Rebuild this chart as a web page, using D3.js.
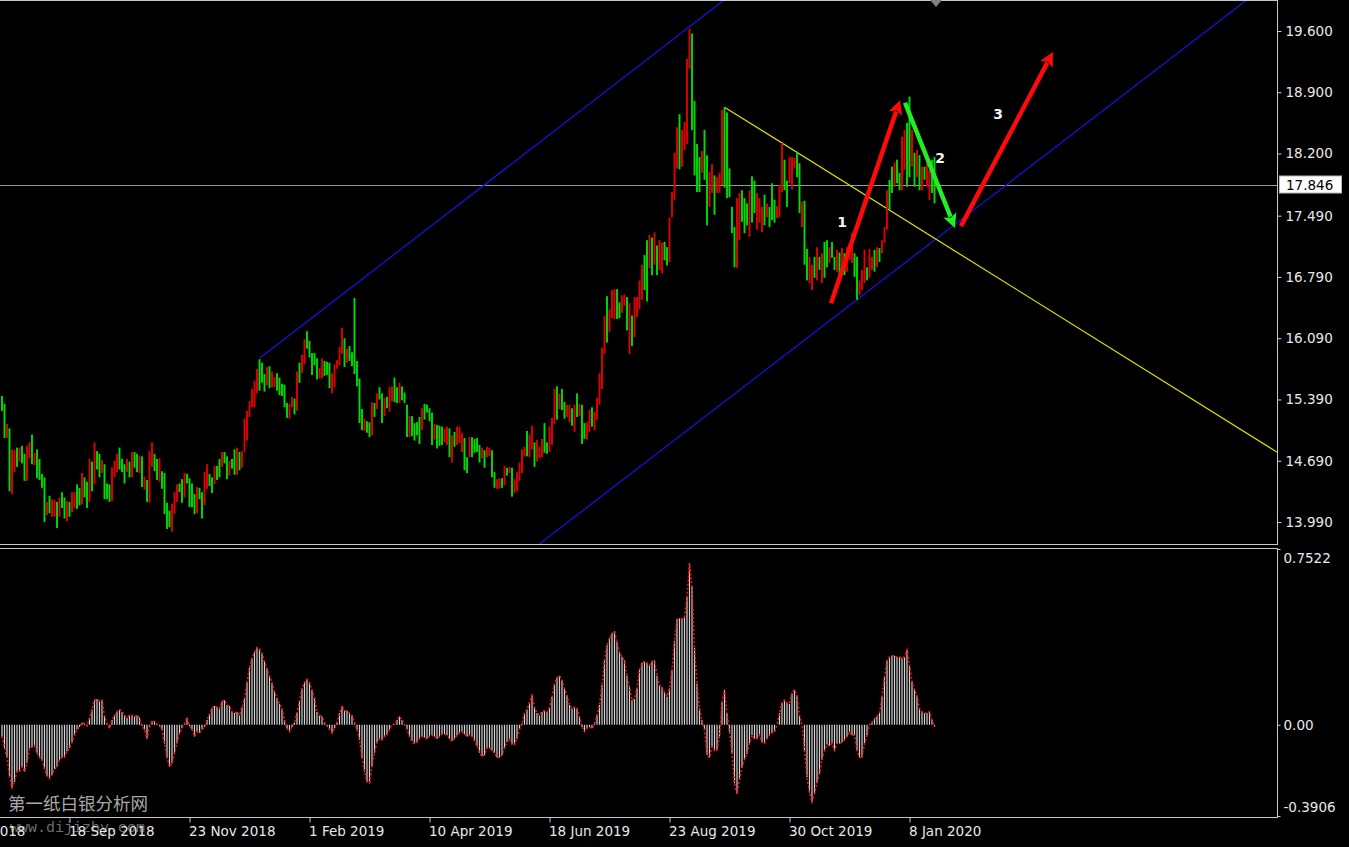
<!DOCTYPE html>
<html><head><meta charset="utf-8">
<script src="https://cdn.jsdelivr.net/npm/d3@7"></script>
<style>html,body{margin:0;padding:0;background:#000;overflow:hidden}svg{display:block}</style>
</head><body><svg id="c" width="1349" height="847"></svg>
<script>
// ---------------- DATA ----------------
const highs = [
15.43,15.34,15.11,15.06,14.82,14.81,14.84,14.84,14.86,14.77,
14.86,14.90,14.99,14.78,14.82,14.71,14.54,14.50,14.22,14.29,
14.25,14.24,14.22,14.27,14.33,14.27,14.23,14.22,14.33,14.33,
14.42,14.38,14.55,14.50,14.45,14.71,14.68,14.90,14.80,14.77,
14.70,14.65,14.43,14.42,14.61,14.69,14.77,14.84,14.71,14.65,
14.71,14.68,14.79,14.79,14.77,14.75,14.74,14.51,14.47,14.80,
14.90,14.77,14.71,14.72,14.57,14.55,14.21,14.12,14.20,14.33,
14.42,14.43,14.48,14.55,14.54,14.49,14.43,14.31,14.39,14.38,
14.33,14.56,14.65,14.54,14.50,14.63,14.63,14.71,14.79,14.79,
14.74,14.69,14.71,14.82,14.84,14.79,14.80,15.17,15.26,15.37,
15.51,15.60,15.74,15.85,15.81,15.68,15.76,15.77,15.71,15.65,
15.69,15.64,15.57,15.56,15.35,15.34,15.42,15.40,15.71,15.81,
15.90,16.08,16.17,16.06,15.92,15.92,15.86,15.75,15.86,15.83,
15.82,15.81,15.69,15.79,15.84,15.99,16.21,16.09,15.97,16.00,
15.93,16.55,15.83,15.63,15.28,15.17,15.14,15.13,15.36,15.35,
15.46,15.53,15.46,15.41,15.42,15.53,15.54,15.64,15.53,15.58,
15.54,15.47,15.33,15.20,15.20,15.12,15.13,15.19,15.29,15.34,
15.33,15.29,15.24,15.11,15.10,15.09,15.08,15.06,15.08,15.06,
14.98,15.02,15.08,15.08,15.01,14.95,14.73,14.96,14.96,14.94,
14.95,14.87,14.84,14.81,14.85,14.84,14.81,14.56,14.48,14.49,
14.49,14.63,14.61,14.62,14.61,14.48,14.56,14.67,14.82,14.85,
15.03,14.99,15.09,14.90,14.93,14.85,14.94,15.12,14.90,15.08,
15.18,15.51,15.54,15.46,15.51,15.36,15.33,15.33,15.29,15.33,
15.46,15.34,15.33,15.12,15.13,15.27,15.30,15.25,15.41,15.69,
15.98,16.34,16.57,16.42,16.64,16.65,16.65,16.50,16.58,16.59,
16.56,16.49,16.35,16.56,16.56,16.75,16.93,17.04,17.21,17.27,
17.24,17.30,17.15,17.21,17.18,17.19,17.13,17.47,17.76,18.21,
18.50,18.65,18.47,18.56,19.28,19.62,19.57,18.80,18.31,18.16,
18.23,18.47,18.18,17.99,18.08,17.95,17.93,17.98,18.70,18.73,
18.67,18.03,17.59,17.36,17.69,17.75,17.78,17.69,17.63,17.78,
17.94,17.89,17.75,17.69,17.59,17.73,17.63,17.59,17.86,17.67,
17.60,17.84,18.32,18.13,17.89,18.16,18.16,18.15,18.22,18.09,
17.65,17.66,17.11,17.02,16.93,17.02,17.13,17.02,17.06,17.19,
17.21,17.13,17.19,17.02,17.10,17.07,17.12,17.06,17.13,17.18,
17.29,17.06,17.02,16.75,16.87,17.10,16.90,17.11,17.02,17.10,
17.13,17.12,17.21,17.36,17.78,17.90,18.05,18.10,18.13,17.98,
18.39,18.47,18.55,18.85,18.47,18.21,18.24,18.18,18.05,18.05,
18.09,18.01,18.13,18.16];

const lows = [
15.26,14.95,14.95,14.34,14.31,14.56,14.62,14.68,14.66,14.46,
14.46,14.72,14.65,14.64,14.49,14.47,14.38,13.99,14.07,14.09,
14.05,14.05,13.92,14.05,14.15,14.03,14.00,14.05,14.10,14.15,
14.14,14.18,14.19,14.27,14.15,14.22,14.34,14.42,14.59,14.50,
14.55,14.25,14.25,14.22,14.23,14.50,14.56,14.59,14.56,14.43,
14.56,14.50,14.50,14.61,14.56,14.55,14.39,14.36,14.22,14.21,
14.62,14.57,14.47,14.45,14.37,14.08,13.91,13.93,13.88,14.08,
14.22,14.33,14.21,14.27,14.43,14.16,14.16,14.08,14.09,14.25,
14.03,14.18,14.37,14.40,14.32,14.42,14.47,14.50,14.62,14.66,
14.48,14.52,14.60,14.53,14.53,14.58,14.61,14.79,14.92,15.19,
15.30,15.30,15.46,15.49,15.58,15.48,15.55,15.52,15.53,15.53,
15.49,15.44,15.43,15.30,15.18,15.17,15.30,15.22,15.26,15.58,
15.69,15.79,15.97,15.87,15.67,15.78,15.62,15.63,15.63,15.66,
15.67,15.52,15.46,15.53,15.74,15.78,15.91,15.76,15.81,15.83,
15.77,15.68,15.54,15.12,15.04,15.03,15.01,14.96,14.98,15.19,
15.28,15.39,15.12,15.20,15.29,15.25,15.37,15.36,15.35,15.35,
15.38,15.35,14.96,14.96,14.97,14.92,14.98,14.88,15.04,15.16,
15.24,15.14,14.87,14.93,14.83,14.86,14.87,14.90,14.87,14.73,
14.67,14.85,14.87,14.89,14.79,14.58,14.55,14.73,14.73,14.78,
14.79,14.67,14.72,14.61,14.73,14.74,14.50,14.38,14.37,14.37,
14.38,14.41,14.52,14.55,14.28,14.32,14.34,14.46,14.55,14.74,
14.74,14.73,14.82,14.62,14.68,14.72,14.73,14.78,14.77,14.79,
14.87,15.11,15.16,15.28,15.27,15.17,15.19,15.13,15.09,15.02,
15.19,15.20,14.88,14.94,14.93,15.02,15.08,15.04,15.16,15.33,
15.51,15.91,16.04,16.16,16.32,16.31,16.31,16.32,16.38,16.46,
16.18,15.91,16.00,16.10,16.33,16.42,16.53,16.64,16.51,16.89,
16.81,16.93,16.81,16.87,16.83,16.98,16.92,16.96,17.47,17.67,
18.03,18.02,18.05,18.24,18.31,19.17,18.47,17.95,17.76,17.76,
17.98,17.90,17.38,17.59,17.75,17.50,17.75,17.75,17.84,17.81,
17.69,17.70,17.29,16.90,16.89,17.21,17.42,17.29,17.38,17.25,
17.41,17.52,17.33,17.41,17.30,17.38,17.47,17.36,17.44,17.41,
17.46,17.47,17.76,17.78,17.59,17.86,17.79,18.03,17.93,17.52,
17.36,16.93,16.75,16.72,16.64,16.78,16.75,16.87,16.72,16.78,
16.90,16.95,17.01,16.87,16.85,16.75,16.90,16.81,16.85,16.98,
16.95,16.79,16.53,16.58,16.64,16.72,16.75,16.78,16.87,16.85,
16.90,16.96,17.06,17.18,17.33,17.55,17.75,17.82,17.86,17.78,
17.78,18.01,17.82,17.93,18.05,17.82,17.93,17.78,17.78,17.90,
17.82,17.67,17.75,17.63];

// 1 = falling bar (drawn green in this chart), 0 = rising bar (drawn red)
const isDown = [
1,1,0,1,0,0,1,0,1,1, 0,0,1,0,1,1,1,1,0,1, 0,0,1,0,1,1,0,1,0,0, 1,1,0,1,1,0,1,0,1,1,
0,1,1,1,0,0,0,1,1,1, 0,1,0,1,1,0,1,0,1,0, 0,1,1,0,1,1,1,1,0,0, 0,1,1,0,1,1,1,1,0,1,
1,0,0,1,1,0,1,1,0,1, 1,0,1,1,0,1,0,0,0,0, 0,0,0,1,1,1,0,1,0,0, 1,1,1,1,1,0,0,1,0,1,
0,0,1,1,1,1,1,0,0,1, 1,1,0,0,0,0,0,1,0,1, 1,1,1,1,1,0,1,1,0,1, 0,1,1,0,1,0,0,1,1,0,
1,1,1,0,1,1,1,1,0,1, 1,1,1,0,1,1,1,0,0,1, 0,1,0,0,0,1,1,0,1,1, 1,1,0,1,0,0,1,1,0,0,
1,0,1,0,1,0,0,0,0,0, 1,0,0,1,0,0,0,1,1,0, 0,0,1,0,1,1,0,0,1,0, 1,0,1,1,0,0,1,0,0,0,
0,0,1,0,0,0,1,1,0,0, 1,0,1,0,0,0,0,1,1,0, 1,0,1,0,0,1,1,0,0,0, 0,1,0,0,0,0,1,1,1,1,
0,1,1,0,0,1,0,0,0,1, 1,1,1,1,0,0,1,1,1,0, 1,1,0,0,0,1,0,1,1,1, 0,0,0,1,1,0,0,0,1,1,
0,1,1,0,0,1,0,1,0,1, 1,0,1,1,0,1,0,1,0,0, 0,1,1,0,0,0,1,0,0,1, 0,1,0,0,0,1,1,0,1,1,
0,0,1,1,0,1,0,1,0,1, 0,0,1,1];

const osc = [
-0.05,-0.10,-0.14,-0.22,-0.27,-0.245,-0.20,-0.20,-0.18,-0.20,
-0.165,-0.10,-0.095,-0.09,-0.12,-0.14,-0.15,-0.19,-0.22,-0.23,
-0.215,-0.19,-0.18,-0.15,-0.14,-0.14,-0.115,-0.10,-0.075,-0.045,
-0.02,-0.01,0.008,0.005,-0.005,0.03,0.065,0.105,0.11,0.10,
0.105,0.04,0.005,-0.015,0.02,0.04,0.055,0.065,0.055,0.04,
0.03,0.04,0.04,0.035,0.04,0.03,-0.005,-0.02,-0.06,-0.01,
0.015,0.015,0.003,-0.005,-0.02,-0.08,-0.14,-0.18,-0.165,-0.12,
-0.08,-0.035,-0.015,0.005,0.03,-0.005,-0.02,-0.05,-0.03,-0.035,
-0.02,-0.01,0.02,0.045,0.07,0.08,0.075,0.07,0.10,0.105,
0.085,0.08,0.055,0.05,0.055,0.04,0.075,0.11,0.18,0.245,
0.285,0.31,0.33,0.325,0.305,0.27,0.24,0.21,0.18,0.14,
0.115,0.09,0.07,0.02,-0.015,-0.03,-0.01,0.01,0.05,0.10,
0.155,0.18,0.195,0.18,0.15,0.115,0.055,0.04,0.035,0.01,
-0.005,-0.02,-0.035,-0.015,0.01,0.05,0.08,0.06,0.06,0.05,
0.04,0.01,-0.02,-0.065,-0.14,-0.20,-0.245,-0.25,-0.18,-0.12,
-0.075,-0.06,-0.065,-0.05,-0.045,-0.02,0.00,0.003,0.02,0.035,
0.02,0.0,-0.02,-0.05,-0.07,-0.08,-0.075,-0.06,-0.05,-0.055,
-0.06,-0.05,-0.045,-0.05,-0.06,-0.05,-0.04,-0.04,-0.045,-0.06,
-0.07,-0.06,-0.045,-0.035,-0.03,-0.04,-0.05,-0.045,-0.05,-0.07,
-0.09,-0.12,-0.135,-0.13,-0.10,-0.10,-0.11,-0.12,-0.14,-0.14,
-0.13,-0.10,-0.075,-0.06,-0.085,-0.085,-0.06,-0.02,0.005,0.05,
0.065,0.095,0.125,0.075,0.05,0.04,0.055,0.06,0.055,0.075,
0.12,0.175,0.20,0.21,0.19,0.155,0.125,0.085,0.07,0.075,
0.07,0.035,-0.01,-0.03,-0.015,-0.01,-0.015,0.005,0.04,0.085,
0.17,0.275,0.34,0.37,0.39,0.40,0.355,0.31,0.29,0.275,
0.21,0.16,0.105,0.11,0.155,0.235,0.265,0.27,0.265,0.255,
0.27,0.275,0.21,0.17,0.16,0.14,0.12,0.155,0.235,0.36,
0.45,0.455,0.455,0.46,0.545,0.69,0.59,0.33,0.175,0.07,
0.02,-0.02,-0.13,-0.14,-0.095,-0.11,-0.11,-0.05,0.095,0.15,
0.05,-0.03,-0.125,-0.25,-0.295,-0.235,-0.185,-0.15,-0.125,-0.08,
-0.045,-0.06,-0.06,-0.045,-0.075,-0.08,-0.06,-0.045,-0.035,-0.03,
0.00,0.05,0.095,0.105,0.095,0.09,0.135,0.15,0.125,0.04,
0.00,-0.11,-0.225,-0.29,-0.33,-0.295,-0.25,-0.21,-0.15,-0.11,
-0.085,-0.09,-0.08,-0.11,-0.08,-0.08,-0.075,-0.065,-0.05,-0.03,
-0.045,-0.045,-0.11,-0.14,-0.14,-0.08,-0.045,0.00,0.01,0.025,
0.035,0.05,0.12,0.205,0.275,0.29,0.295,0.295,0.29,0.29,
0.285,0.29,0.32,0.255,0.185,0.15,0.125,0.07,0.055,0.05,
0.05,0.055,0.02,-0.01];

const priceTicks = [19.6, 18.9, 18.2, 17.49, 16.79, 16.09, 15.39, 14.69, 13.99];
const priceTickLabels = ["19.600","18.900","18.200","17.490","16.790","16.090","15.390","14.690","13.990"];
const currentPrice = 17.846;
const currentPriceLabel = "17.846";
const oscTicks = [0.7522, 0, -0.3906];
const oscTickLabels = ["0.7522", "0.00", "-0.3906"];
const dateTickIdx = [-21, 27, 75, 123, 171, 219, 267, 315, 363];
const dateTickLabels = ["12 Jul 2018","18 Sep 2018","23 Nov 2018","1 Feb 2019","10 Apr 2019","18 Jun 2019","23 Aug 2019","30 Oct 2019","8 Jan 2020"];
// drawn objects: [bar index, price]
const channelUpper = [[103, 15.86], [300, 20.20]];
const channelLower = [[200, 13.41], [520, 20.44]];
const trendLine = [[289, 18.73], [520, 14.61]];
const arrowFrom = [[331.6, 16.49], [361.2, 18.78], [383.6, 17.37]];
const arrowTo   = [[359.2, 18.81], [381.2, 17.35], [420.4, 19.36]];
const waveLabels = ["1", "2", "3"];
const waveLabelPos = [[336, 17.42], [375.2, 18.15], [398.4, 18.65]];
const watermarkCN = "第一纸白银分析网";
const watermarkURL = "www.dijizby.com";

// ---------------- STYLE / LAYOUT ----------------
const W = 1349, H = 847;
const paneRight = 1277;
const mainTop = 0.5, mainBottom = 544.5;
const oscTop = 548.5, oscBottom = 817.5;
const upColor = "#e00000", downColor = "#00dd00";
const frameColor = "#c8c8c8", textColor = "#e8e8e8";
const font = "'DejaVu Sans', Verdana, sans-serif";

const svg = d3.select("#c");
svg.append("rect").attr("width", W).attr("height", H).attr("fill", "#000");

const x = d3.scaleLinear().domain([0, 373]).range([2, 934.5]);
const y = d3.scaleLinear().domain([13.99, 19.6]).range([522, 31]);
const yo = d3.scaleLinear().domain([-0.3906, 0.7522]).range([816, 549]);

const defs = svg.append("defs");
defs.append("clipPath").attr("id", "clipMain").append("rect")
  .attr("x", 0).attr("y", mainTop).attr("width", paneRight).attr("height", mainBottom - mainTop);
defs.append("clipPath").attr("id", "clipOsc").append("rect")
  .attr("x", 0).attr("y", oscTop).attr("width", paneRight).attr("height", oscBottom - oscTop);

const gMain = svg.append("g").attr("clip-path", "url(#clipMain)");
const gOsc = svg.append("g").attr("clip-path", "url(#clipOsc)");

// current price line
gMain.append("line").attr("x1", 0).attr("x2", paneRight)
  .attr("y1", Math.round(y(currentPrice)) + 0.5).attr("y2", Math.round(y(currentPrice)) + 0.5)
  .attr("stroke", "#9a9aa2").attr("stroke-width", 1);

// channel and trend lines
const line = d3.line().x(d => x(d[0])).y(d => y(d[1]));
gMain.append("path").attr("d", line(channelUpper)).attr("stroke", "#1414e6").attr("stroke-width", 1.2).attr("fill", "none");
gMain.append("path").attr("d", line(channelLower)).attr("stroke", "#1414e6").attr("stroke-width", 1.2).attr("fill", "none");
gMain.append("path").attr("d", line(trendLine)).attr("stroke", "#e0e000").attr("stroke-width", 1.2).attr("fill", "none");

// candles
const idx = d3.range(highs.length);
gMain.selectAll("rect.bar").data(idx).join("rect").attr("class", "bar")
  .attr("x", i => x(i) - 0.95).attr("width", 1.9)
  .attr("y", i => y(highs[i]))
  .attr("height", i => Math.max(1, y(lows[i]) - y(highs[i])))
  .attr("fill", i => isDown[i] ? downColor : upColor);

// arrows
const arrowColors = ["#ff0a0a", "#22ee22", "#ff0a0a"];
arrowFrom.forEach((f, k) => {
  const t = arrowTo[k];
  const x1 = x(f[0]), y1 = y(f[1]), x2 = x(t[0]), y2 = y(t[1]);
  const dx = x2 - x1, dy = y2 - y1, len = Math.hypot(dx, dy);
  const ux = dx / len, uy = dy / len, px = -uy, py = ux;
  const hl = 14, hw = 7;
  const bx = x2 - ux * hl, by = y2 - uy * hl;
  gMain.append("line").attr("x1", x1).attr("y1", y1).attr("x2", bx + ux * 2).attr("y2", by + uy * 2)
    .attr("stroke", arrowColors[k]).attr("stroke-width", 4.5);
  gMain.append("polygon")
    .attr("points", [[x2, y2], [bx + px * hw, by + py * hw], [bx + ux * 3, by + uy * 3], [bx - px * hw, by - py * hw]].map(p => p.join(",")).join(" "))
    .attr("fill", arrowColors[k]);
});
gMain.selectAll("text.wave").data(waveLabels).join("text").attr("class", "wave")
  .attr("x", (d, k) => x(waveLabelPos[k][0])).attr("y", (d, k) => y(waveLabelPos[k][1]))
  .attr("text-anchor", "middle").attr("dominant-baseline", "central")
  .attr("fill", "#f4f4f4").attr("font-family", font).attr("font-weight", "bold").attr("font-size", 14)
  .text(d => d);

// oscillator histogram
gOsc.selectAll("line.h").data(idx).join("line").attr("class", "h")
  .attr("x1", i => x(i)).attr("x2", i => x(i))
  .attr("y1", yo(0)).attr("y2", i => yo(osc[i]))
  .attr("stroke", "#d4d4d4").attr("stroke-width", 1.2);
gOsc.append("path")
  .attr("d", d3.line().x((d, i) => x(i)).y(d => yo(d))(osc))
  .attr("fill", "none").attr("stroke", "#ff1010").attr("stroke-width", 1.6).attr("stroke-dasharray", "2,2");

// frames
svg.append("rect").attr("x", -2).attr("y", mainTop).attr("width", paneRight + 2.5).attr("height", mainBottom - mainTop)
  .attr("fill", "none").attr("stroke", frameColor).attr("stroke-width", 1);
svg.append("rect").attr("x", -2).attr("y", oscTop).attr("width", paneRight + 2.5).attr("height", oscBottom - oscTop)
  .attr("fill", "none").attr("stroke", frameColor).attr("stroke-width", 1);

// price axis
const yAxis = d3.axisRight(y).tickValues(priceTicks).tickFormat((d, k) => priceTickLabels[k]).tickSize(4).tickPadding(4);
const gy = svg.append("g").attr("transform", `translate(${paneRight + 0.5},0)`).call(yAxis);
gy.select(".domain").remove();
gy.selectAll("line").attr("stroke", frameColor);
gy.selectAll("text").attr("fill", textColor).attr("font-family", font).attr("font-size", 13.5);

// current price box
const cy = y(currentPrice);
svg.append("rect").attr("x", 1279.5).attr("y", cy - 8.5).attr("width", 62).attr("height", 17)
  .attr("fill", "#fff").attr("stroke", "#bbb");
svg.append("text").attr("x", 1286).attr("y", cy).attr("dominant-baseline", "central")
  .attr("fill", "#000").attr("font-family", font).attr("font-size", 13.5).text(currentPriceLabel);

// oscillator axis
const oAxis = d3.axisRight(yo).tickValues(oscTicks).tickFormat((d, k) => oscTickLabels[k]).tickSize(3).tickPadding(3);
const go = svg.append("g").attr("transform", `translate(${paneRight + 0.5},0)`).call(oAxis);
go.select(".domain").remove();
go.selectAll("line").attr("stroke", frameColor);
go.selectAll("text").attr("fill", textColor).attr("font-family", font).attr("font-size", 13.5)
  .attr("transform", (d, k) => `translate(0,${k === 0 ? 9 : (k === 2 ? -9 : 0)})`);

// watermark (behind date labels)
svg.append("text").attr("x", 8).attr("y", 810).attr("fill", "#a8a8a8")
  .attr("font-family", "'Noto Sans CJK SC', sans-serif").attr("font-size", 17.5).text(watermarkCN);
svg.append("text").attr("x", 10).attr("y", 832).attr("fill", "#6e6e6e")
  .attr("font-family", "'Liberation Mono', 'DejaVu Sans Mono', monospace").attr("font-size", 15).text(watermarkURL);

// date axis
const xAxis = d3.axisBottom(x).tickValues(dateTickIdx).tickFormat((d, k) => dateTickLabels[k]).tickSize(5).tickPadding(4);
const gx = svg.append("g").attr("transform", `translate(0,${oscBottom})`).call(xAxis);
gx.select(".domain").remove();
gx.selectAll("line").attr("stroke", frameColor);
gx.selectAll("text").attr("fill", textColor).attr("font-family", font).attr("font-size", 13.5)
  .attr("text-anchor", "start").attr("dx", -1);

// shift marker
const sx = x(373) + 1.5;
svg.append("polygon").attr("points", `${sx - 6},0 ${sx + 6},0 ${sx},7`).attr("fill", "#808080");
</script>
</body></html>
